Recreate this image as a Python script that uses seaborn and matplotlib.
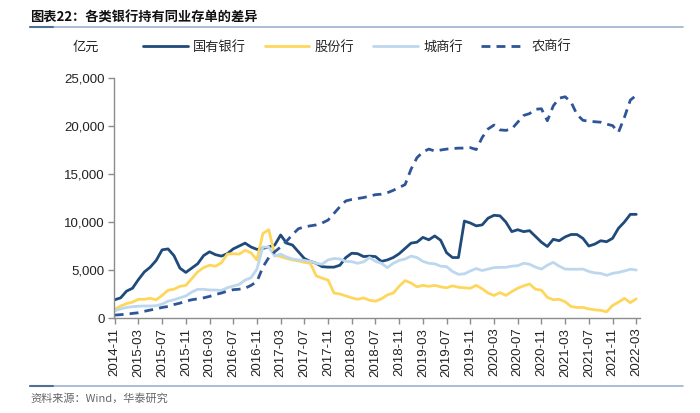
import numpy as np
import pandas as pd
import seaborn as sns
import matplotlib.pyplot as plt
from matplotlib.lines import Line2D

# monthly, 2014-11 .. 2022-03, 亿元
months = pd.period_range("2014-11", "2022-03", freq="M").strftime("%Y-%m").tolist()

state_owned = [1900, 2100, 2800, 3100, 4000, 4800, 5300, 6000, 7100, 7200,
               6500, 5200, 4750, 5200, 5650, 6500, 6900, 6600, 6450, 6700,
               7200, 7500, 7800, 7400, 7150, 7250, 7400, 7600, 8650, 7800,
               7600, 6900, 6200, 5900, 5700, 5350, 5300, 5300, 5500, 6300,
               6750, 6700, 6400, 6450, 6400, 5900, 6050, 6300, 6700, 7250,
               7800, 7900, 8400, 8150, 8550, 8100, 6800, 6300, 6300, 10100,
               9900, 9600, 9700, 10400, 10700, 10650, 10000, 9000, 9200, 9000,
               9100, 8500, 7900, 7450, 8200, 8050, 8450, 8700, 8700, 8300,
               7500, 7700, 8050, 7950, 8300, 9350, 10000, 10800, 10800]
joint_stock = [900, 1250, 1500, 1650, 1950, 1950, 2050, 1900, 2350, 2900,
               3000, 3300, 3400, 4100, 4800, 5250, 5500, 5400, 5750, 6650,
               6700, 6650, 7050, 6800, 6050, 8800, 9200, 6550, 6400, 6200,
               6050, 5950, 5800, 5700, 4400, 4150, 3950, 2600, 2500, 2300,
               2100, 1950, 2100, 1850, 1750, 2000, 2400, 2600, 3300, 3900,
               3650, 3250, 3400, 3300, 3400, 3250, 3150, 3350, 3200, 3150,
               3100, 3400, 3050, 2600, 2350, 2650, 2350, 2750, 3100, 3350,
               3550, 3000, 2900, 2150, 1900, 1950, 1700, 1200, 1100, 1100,
               950, 850, 800, 650, 1300, 1650, 2050, 1600, 2000]
city_comm = [750, 950, 1100, 1180, 1230, 1250, 1250, 1280, 1450, 1750,
             1900, 2100, 2300, 2700, 2990, 2990, 2920, 2920, 2870, 3150,
             3330, 3500, 3950, 4200, 5100, 7400, 7380, 6450, 6650, 6350,
             6150, 6050, 6000, 5900, 5700, 5600, 6050, 6200, 6150, 5900,
             5870, 5700, 5850, 6300, 5900, 5700, 5250, 5700, 6000, 6150,
             6450, 6300, 5900, 5700, 5650, 5400, 5350, 4850, 4550, 4600,
             4900, 5150, 4950, 5100, 5250, 5280, 5280, 5400, 5450, 5700,
             5600, 5300, 5100, 5500, 5800, 5400, 5100, 5080, 5080, 5100,
             4850, 4700, 4650, 4450, 4650, 4750, 4900, 5080, 5000]
rural_comm = [300, 350, 400, 480, 550, 700, 830, 950, 1100, 1200,
              1400, 1550, 1750, 1900, 2000, 2100, 2250, 2450, 2600, 2800,
              2950, 3000, 3100, 3400, 3800, 5300, 6300, 6900, 7400, 8000,
              8700, 9300, 9500, 9600, 9700, 9900, 10200, 10900, 11600, 12200,
              12350, 12450, 12550, 12700, 12850, 12900, 13050, 13300, 13600, 13900,
              15500, 16700, 17300, 17600, 17400, 17500, 17600, 17650, 17700, 17700,
              17750, 17550, 18800, 19700, 20100, 19600, 19550, 19700, 20400, 21100,
              21300, 21750, 21800, 20550, 22100, 22900, 23050, 22500, 21200, 20600,
              20500, 20450, 20400, 20200, 20050, 19350, 20900, 22700, 23200]

series_names = ["国有银行", "股份行", "城商行", "农商行"]
colors = ["#1F4A7A", "#FFD65C", "#BDD7EE", "#2E5597"]

df = pd.DataFrame({"idx": np.arange(len(months)),
                   "国有银行": state_owned, "股份行": joint_stock,
                   "城商行": city_comm, "农商行": rural_comm})

sns.set_style("white")
plt.rcParams["font.family"] = ["Liberation Sans", "Noto Sans CJK SC", "DejaVu Sans"]
cjk = ["Noto Sans CJK SC", "DejaVu Sans"]

fig = plt.figure(figsize=(7, 4.13), dpi=100)
ax = fig.add_axes([0.163, 0.230, 0.751, 0.581])

for name, c in zip(series_names, colors):
    if name == "农商行":
        sns.lineplot(data=df, x="idx", y=name, ax=ax, color=c, linewidth=2.0,
                     label=name, dashes=False)
        ax.lines[-1].set_dashes((3.2, 2.2))
    else:
        sns.lineplot(data=df, x="idx", y=name, ax=ax, color=c, linewidth=2.0,
                     label=name)

ax.set_xlim(-0.1, 88.6)
ax.set_ylim(0, 25000)
ax.set_yticks(range(0, 25001, 5000))
ax.set_yticklabels([f"{v:,}" for v in range(0, 25001, 5000)], fontsize=9.5)
ticks = list(range(0, len(months), 4))
ax.set_xticks(ticks)
ax.set_xticklabels([months[i] for i in ticks], rotation=90, fontsize=9.5)
ax.set_xlabel("")
ax.set_ylabel("")

for s in ["top", "right"]:
    ax.spines[s].set_visible(False)
for s in ["left", "bottom"]:
    ax.spines[s].set_color("#8C8C8C")
    ax.spines[s].set_linewidth(1.0)
ax.tick_params(axis="both", direction="out", length=4, width=1, color="#8C8C8C",
               labelcolor="#222222", pad=3)
ax.tick_params(axis="y", left=True)
ax.tick_params(axis="x", bottom=True)

leg = ax.legend(loc="center", bbox_to_anchor=(0.51, 0.886), bbox_transform=fig.transFigure,
                ncol=4, frameon=False, handlelength=3.4, handletextpad=0.4,
                columnspacing=1.4, prop={"family": cjk, "size": 9.5})

fig.text(0.122, 0.886, "亿元", family=cjk, fontsize=9.5, ha="center", va="center",
         color="#222222")

fig.text(0.043, 0.958, "图表22：各类银行持有同业存单的差异", family=cjk, fontsize=9.5,
         fontweight="bold", ha="left", va="center", color="#111111")
fig.add_artist(Line2D([0.043, 0.975], [0.935, 0.935], color="#9DB3CF", lw=1.2))
fig.add_artist(Line2D([0.043, 0.075], [0.935, 0.935], color="#4F6F94", lw=1.5))

fig.add_artist(Line2D([0.043, 0.975], [0.065, 0.065], color="#9DB3CF", lw=1.2))
fig.add_artist(Line2D([0.043, 0.075], [0.065, 0.065], color="#4F6F94", lw=1.5))
fig.text(0.043, 0.036, "资料来源：Wind，华泰研究", family=cjk, fontsize=8,
         ha="left", va="center", color="#666666")

fig.savefig("out.png", dpi=100)
